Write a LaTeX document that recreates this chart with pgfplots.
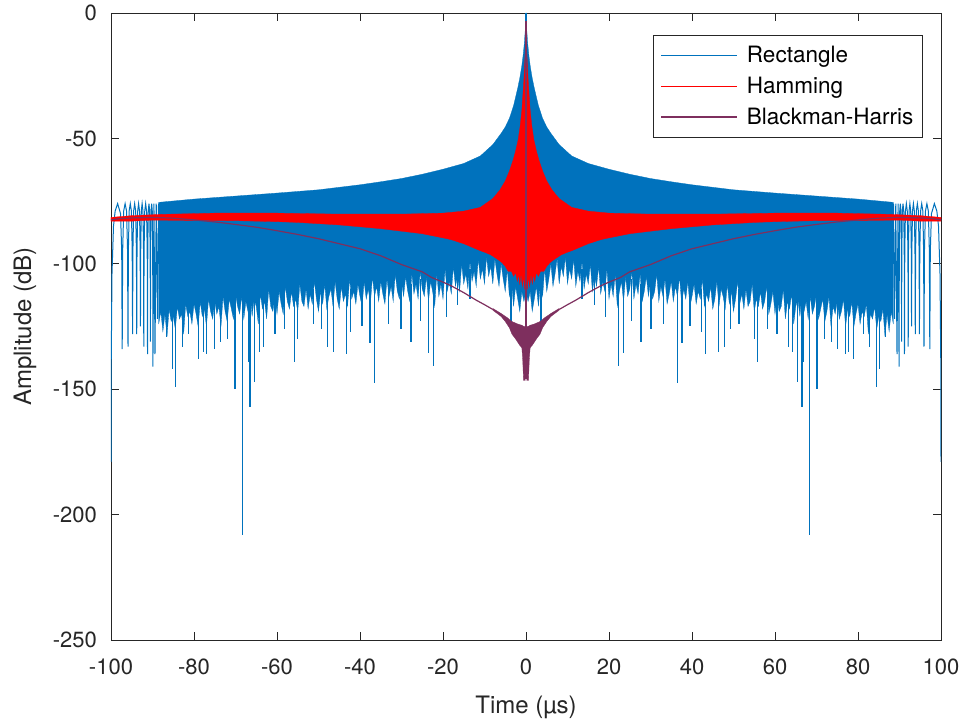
\documentclass[border=0pt]{standalone}
\usepackage{fontspec}
\setmainfont{TeX Gyre Heros}
\usepackage{pgfplots}
\usepackage{pgfplotstable}
\pgfplotsset{compat=1.18}
\definecolor{recblue}{RGB}{0,114,189}
\definecolor{hamred}{RGB}{255,0,0}
\definecolor{bhpurp}{RGB}{126,47,94}
\definecolor{axgray}{RGB}{38,38,38}

% Rectangle: solid band (upper envelope, then jagged lower edge), right half
\pgfplotstableread{
x y
0 0
0.05 -3
0.15 -6
0.4 -12
0.7 -17
1 -21
1.5 -26
2 -30
3 -37
4 -42
5 -45.5
6 -48
8 -52.5
11 -57
15 -60
20 -62.3
25 -64.3
30 -66
35 -67.3
40 -68.5
50 -70.5
60 -71.8
70 -73
80 -74.2
88.5 -75.5
88.5 -124
88.0 -119
87.5 -127
87.0 -120
86.5 -129
86.0 -118
85.5 -123
85.0 -121
84.5 -126
84.0 -117
83.5 -122
83.0 -120
82.5 -128
82.0 -116
81.5 -121
81.0 -119
80.5 -124
80.0 -116
79.5 -120
79.0 -125
78.5 -115
78.0 -121
77.5 -118
77.0 -125
76.5 -114
76.0 -119
75.5 -122
75.0 -115
74.5 -120
74.0 -117
73.5 -125
73.0 -113
72.5 -119
72.0 -123
71.5 -114
71.0 -118
70.5 -122
70.0 -112
69.5 -117
69.0 -120
68.5 -113
68.0 -122
67.5 -115
67.0 -119
66.5 -111
66.0 -121
65.5 -114
65.0 -117
64.5 -124
64.0 -112
63.5 -118
63.0 -115
62.5 -122
62.0 -110
61.5 -117
61.0 -119
60.5 -113
60.0 -120
59.5 -111
59.0 -116
58.5 -120
58.0 -109
57.5 -115
57.0 -118
56.5 -111
56.0 -117
55.5 -114
55.0 -119
54.5 -108
54.0 -115
53.5 -117
53.0 -110
52.5 -118
52.0 -112
51.5 -116
51.0 -107
50.5 -114
50.0 -119
49.5 -111
49.0 -116
48.5 -108
48.0 -118
47.5 -113
47.0 -110
46.5 -117
46.0 -107
45.5 -114
45.0 -118
44.5 -109
44.0 -115
43.5 -112
43.0 -117
42.5 -106
42.0 -114
41.5 -111
41.0 -116
40.5 -108
40.0 -113
39.5 -117
39.0 -107
38.5 -114
38.0 -110
37.5 -116
37.0 -105
36.5 -113
36.0 -109
35.5 -115
35.0 -107
34.5 -112
34.0 -116
33.5 -106
33.0 -113
32.5 -109
32.0 -115
31.5 -104
31.0 -111
30.5 -114
30.0 -107
29.5 -113
29.0 -105
28.5 -111
28.0 -115
27.5 -104
27.0 -112
26.5 -108
26.0 -114
25.5 -103
25.0 -110
24.5 -113
24.0 -105
23.5 -115
23.0 -107
22.5 -111
22.0 -117
21.5 -104
21.0 -113
20.5 -108
20.0 -114
19.5 -102
19.0 -111
18.5 -107
18.0 -112
17.5 -101
17.0 -109
16.5 -105
16.0 -111
15.5 -100
15.0 -108
14.5 -104
14.0 -110
13.5 -99
13.0 -107
12.5 -103
12.0 -109
11.5 -98
11.0 -106
10.5 -102
10.0 -108
9.5 -97
9.0 -105
8.5 -101
8.0 -108
7.5 -98
7.0 -104
6.5 -109
6.0 -100
5.5 -106
5.0 -111
4.5 -102
4.0 -113
3.5 -107
3.0 -117
2.5 -109
2.0 -114
1.5 -119
1.0 -111
0.5 -115
0.0 -111
}\rectband

% Rectangle: edge side lobes, right half
\pgfplotstableread{
x y
88.5 -100
88.55 -76
88.8 -122
89.1 -76
89.4 -136
89.65 -76
89.9 -141
89.95 -95
90.05 -79
90.2 -76
90.35 -79
90.45 -95
90.5 -131
90.56 -95
90.68 -79
90.85 -76
91.02 -79
91.14 -95
91.2 -136
91.27 -95
91.43 -79
91.65 -76
91.87 -79
92.03 -95
92.1 -133
92.16 -95
92.3 -79
92.5 -76
92.7 -79
92.84 -95
92.9 -125
92.97 -95
93.13 -79
93.35 -76
93.57 -79
93.73 -95
93.8 -128
93.88 -95
94.05 -79
94.3 -76
94.55 -79
94.72 -95
94.8 -128
94.89 -95
95.08 -79
95.35 -76
95.63 -79
95.81 -95
95.9 -133
96.01 -95
96.25 -79
96.6 -76
96.95 -79
97.19 -95
97.3 -134
97.42 -95
97.7 -80
98.4 -76
99.0 -79
99.4 -85
99.76 -104
99.95 -140
100 -179
}\rectlobes

% Rectangle: deep nulls, right half (segments separated by nan)
\pgfplotstableread{
x y
86.6 -112
86.6 -129
86.6 nan
85.1 -112
85.1 -142
85.1 nan
84.4 -112
84.4 -149
84.4 nan
82.7 -112
82.7 -133
82.7 nan
81.4 -112
81.4 -128
81.4 nan
79.0 -112
79.0 -138
79.0 nan
77.8 -112
77.8 -135
77.8 nan
76.9 -112
76.9 -136
76.9 nan
75.1 -112
75.1 -134
75.1 nan
73.7 -112
73.7 -131
73.7 nan
71.9 -112
71.9 -130
71.9 nan
70.1 -112
70.1 -150
70.1 nan
68.3 -112
68.3 -208
68.3 nan
66.9 -112
66.9 -139
66.9 nan
66.5 -112
66.5 -157
66.5 nan
65.5 -112
65.5 -147
65.5 nan
64.3 -112
64.3 -135
64.3 nan
63.3 -112
63.3 -133
63.3 nan
60.5 -112
60.5 -128
60.5 nan
58.2 -110
58.2 -126
58.2 nan
55.8 -110
55.8 -139
55.8 nan
55.0 -110
55.0 -130
55.0 nan
51.3 -110
51.3 -124
51.3 nan
49.2 -110
49.2 -126
49.2 nan
47.8 -110
47.8 -133
47.8 nan
46.3 -110
46.3 -135
46.3 nan
43.2 -110
43.2 -136
43.2 nan
42.2 -110
42.2 -127
42.2 nan
39.5 -110
39.5 -125
39.5 nan
37.6 -110
37.6 -131.5
37.6 nan
36.6 -110
36.6 -147.4
36.6 nan
33.2 -108
33.2 -124
33.2 nan
30.1 -108
30.1 -126
30.1 nan
27.7 -108
27.7 -131
27.7 nan
25.4 -106
25.4 -123
25.4 nan
23.5 -106
23.5 -135.4
23.5 nan
22.2 -106
22.2 -140.7
22.2 nan
19.1 -105
19.1 -121.3
19.1 nan
16.6 -104
16.6 -116.5
16.6 nan
13.5 -102
13.5 -114
13.5 nan
3.8 -105
3.8 -123.6
3.8 nan
3.4 -105
3.4 -124
}\rectspikes

% Hamming: band, right half
\pgfplotstableread{
x y
0 -5
0.15 -14
0.35 -22
0.6 -29
1 -38.7
1.4 -45
1.9 -50.6
2.5 -55
3.1 -58.6
4 -63
5 -67
6.3 -70.6
8 -74
11 -77.5
15 -79
20 -79.8
30 -80.2
45 -80.2
60 -79.8
75 -79.8
88 -80.3
95 -80.8
100 -81.5
100 -83
95 -83
90 -82.6
80 -82.7
70 -82.8
60 -83.2
55 -83.5
45 -84.5
35 -86
30 -87
25 -88
19 -90
17.8 -90.5
15 -92
11 -94.8
9.8 -95.5
8.4 -96.5
6.6 -98.5
5.8 -99.5
5 -101
4.3 -103
3.5 -103
3 -105
2.5 -103.5
2.1 -107
1.8 -104
1.5 -108
1.2 -104
0.9 -109
0.6 -105
0.3 -110
0 -108
}\hamband

% Blackman-Harris: curve, right half
\pgfplotstableread{
x y
100 -82.5
98 -82
95 -81.7
90 -81.5
85 -81.8
80 -82.5
75 -83.3
70 -84.3
65 -85.4
60 -86.8
55 -88.3
50 -90
45 -92
40 -94
35 -96.8
30 -100.3
25 -103.2
22.7 -105.5
20 -107.3
18 -108.8
15 -111.5
12 -114.5
10 -116.3
8 -118.2
}\bhline

% Blackman-Harris: band near the centre, right half
\pgfplotstableread{
x y
8 -117.8
6 -119.8
4.5 -121.5
3.4 -123
2 -124
1 -124.5
0.5 -125
0 -125
0 -140
0.2 -146.5
0.6 -146.5
0.8 -138
1.0 -133.5
1.5 -132.5
2.5 -130
3.4 -128
4 -125.5
5 -123
6 -121
8 -118.5
}\bhband

\begin{document}
\begin{tikzpicture}
\path[use as bounding box] (-111pt,-85pt) rectangle (857pt,640pt);
\begin{axis}[
  scale only axis, width=830pt, height=627pt,
  at={(0pt,0pt)}, anchor=south west,
  xmin=-100, xmax=100, ymin=-250, ymax=0,
  xtick={-100,-80,-60,-40,-20,0,20,40,60,80,100},
  xticklabels={-100,-80,-60,-40,-20,0,20,40,60,80,100},
  ytick={-250,-200,-150,-100,-50,0},
  yticklabels={-250,-200,-150,-100,-50,0},
  tick align=inside, major tick length=8pt,
  axis line style={draw=axgray, line width=0.8pt},
  tick style={draw=axgray, line width=0.8pt},
  xticklabel style={font=\fontsize{22}{26}\selectfont, text=axgray, inner sep=0pt, anchor=base, yshift=-34pt},
  yticklabel style={font=\fontsize{22}{26}\selectfont, text=axgray, inner sep=0pt, anchor=east, xshift=-14pt},
  xlabel={Time (µs)}, ylabel={Amplitude (dB)},
  x label style={font=\fontsize{24}{28}\selectfont, text=axgray, at={(axis description cs:0.5,0)}, anchor=center, yshift=-67pt},
  y label style={font=\fontsize{24}{28}\selectfont, text=axgray, at={(axis description cs:-0.1036,0.5)}, anchor=center},
  legend style={at={(0.978,0.965)}, anchor=north east, draw=axgray, line width=0.8pt,
    font=\fontsize{22.5}{26}\selectfont, inner xsep=7pt, inner ysep=9pt, row sep=9pt,
    /tikz/every odd column/.append style={column sep=7pt}},
  legend cell align=left,
  legend image code/.code={\draw[#1] (0pt,0pt) -- (76pt,0pt);},
  unbounded coords=jump,
]
\addlegendimage{line width=1.2pt, draw=recblue, color=recblue}
\addlegendentry{Rectangle}
\addlegendimage{line width=1.2pt, draw=hamred, color=hamred}
\addlegendentry{Hamming}
\addlegendimage{line width=1.2pt, draw=bhpurp, color=bhpurp}
\addlegendentry{Blackman-Harris}

% Rectangle
\addplot[forget plot, fill=recblue, draw=recblue, line width=0.3pt] table[x=x, y=y] {\rectband};
\addplot[forget plot, fill=recblue, draw=recblue, line width=0.3pt] table[x expr=-\thisrow{x}, y=y] {\rectband};
\addplot[forget plot, draw=recblue, line width=1.2pt] table[x=x, y=y] {\rectspikes};
\addplot[forget plot, draw=recblue, line width=1.2pt] table[x expr=-\thisrow{x}, y=y] {\rectspikes};
\addplot[forget plot, draw=recblue, line width=1pt] table[x=x, y=y] {\rectlobes};
\addplot[forget plot, draw=recblue, line width=1pt] table[x expr=-\thisrow{x}, y=y] {\rectlobes};
\addplot[forget plot, draw=recblue, line width=1.2pt] coordinates {(0,0) (0,-110)};

% Hamming
\addplot[forget plot, fill=hamred, draw=hamred, line width=0.3pt] table[x=x, y=y] {\hamband};
\addplot[forget plot, fill=hamred, draw=hamred, line width=0.3pt] table[x expr=-\thisrow{x}, y=y] {\hamband};

% Blackman-Harris
\addplot[forget plot, fill=bhpurp, draw=bhpurp, line width=0.3pt] table[x=x, y=y] {\bhband};
\addplot[forget plot, fill=bhpurp, draw=bhpurp, line width=0.3pt] table[x expr=-\thisrow{x}, y=y] {\bhband};
\addplot[forget plot, draw=bhpurp, line width=1.2pt] table[x=x, y=y] {\bhline};
\addplot[forget plot, draw=bhpurp, line width=1.2pt] table[x expr=-\thisrow{x}, y=y] {\bhline};
\addplot[forget plot, draw=bhpurp, line width=1.2pt] coordinates {(0,-3) (0,-146)};
\end{axis}
\end{tikzpicture}
\end{document}
